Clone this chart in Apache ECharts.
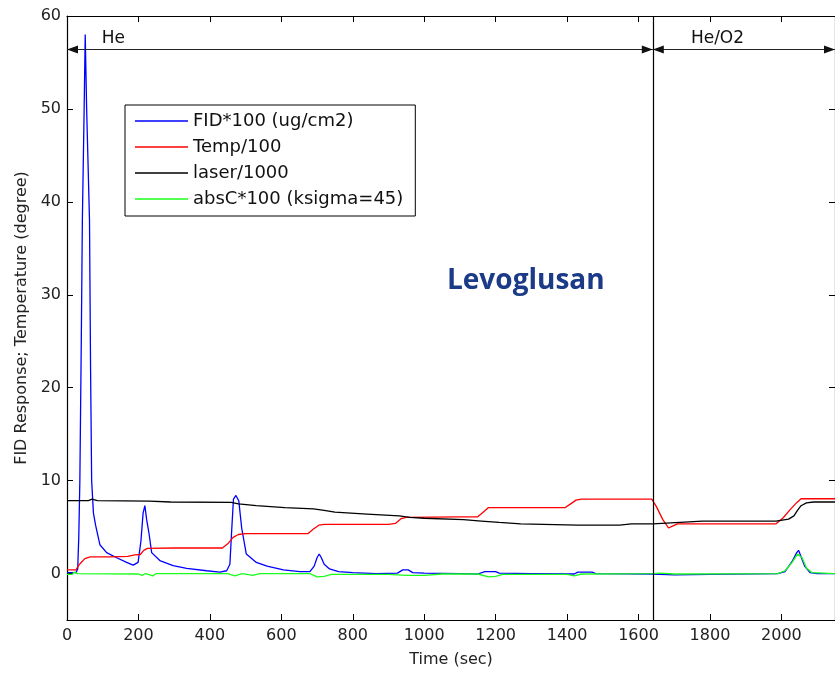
<!DOCTYPE html>
<html>
<head>
<meta charset="utf-8">
<title>Levoglusan</title>
<script src="https://cdn.jsdelivr.net/npm/echarts@6/dist/echarts.min.js"></script>
<style>
    html, body { margin: 0; padding: 0; background: #fff; }
    #chart { width: 835px; height: 673px; }
</style>
</head>
<body>
<div id="chart"></div>
<script>
'use strict';

// ---------------------------------------------------------------------------------------------
// data (time in sec)
const fidTime = [0, 25, 30, 33, 36, 40, 43, 48, 51, 55, 63, 66, 69, 74, 80, 92, 111, 139, 167, 185, 199, 207, 213, 218, 223, 230, 237, 260, 297, 335, 391, 428, 447, 456, 461, 466, 473, 481, 489, 502, 530, 560, 606, 652, 680, 692, 700, 706, 712, 720, 735, 760, 800, 866, 925, 940, 955, 968, 1000, 1100, 1150, 1170, 1200, 1210, 1300, 1420, 1430, 1470, 1480, 1640, 1700, 1800, 1990, 2010, 2030, 2042, 2048, 2055, 2065, 2080, 2100, 2150];
const fidValue = [0.1, 0.1, 0.5, 4, 10, 25, 38, 50, 58, 50, 38, 22, 10, 6.5, 5.2, 3.1, 2.25, 1.7, 1.2, 0.9, 1.2, 3.5, 6.5, 7.3, 5.8, 4.2, 2.25, 1.4, 0.85, 0.55, 0.3, 0.15, 0.3, 1.0, 4.6, 8.0, 8.4, 7.8, 4.9, 2.1, 1.2, 0.8, 0.4, 0.2, 0.2, 0.8, 1.7, 2.1, 1.7, 1.0, 0.5, 0.2, 0.1, 0.0, 0.05, 0.4, 0.4, 0.1, 0.05, 0.0, -0.05, 0.2, 0.2, 0.05, 0.0, -0.05, 0.15, 0.15, 0.0, -0.05, -0.15, -0.1, 0.0, 0.2, 1.3, 2.2, 2.5, 1.8, 0.8, 0.1, 0.0, 0.0];

const tempTime = [0, 25, 35, 50, 65, 120, 170, 190, 205, 215, 225, 300, 435, 450, 465, 480, 500, 550, 555, 560, 675, 690, 705, 720, 900, 920, 935, 950, 1100, 1150, 1165, 1180, 1395, 1410, 1425, 1440, 1637, 1650, 1668, 1684, 1695, 1709, 1985, 2005, 2025, 2042, 2055, 2150];
const tempValue = [0.4, 0.4, 1.0, 1.6, 1.8, 1.8, 1.85, 2.0, 2.05, 2.5, 2.7, 2.75, 2.75, 3.2, 3.9, 4.2, 4.3, 4.3, 4.2, 4.3, 4.3, 4.8, 5.2, 5.3, 5.3, 5.4, 5.9, 6.05, 6.1, 6.1, 6.6, 7.1, 7.1, 7.5, 7.9, 8.0, 8.0, 7.2, 5.8, 4.9, 5.1, 5.35, 5.35, 6.0, 6.9, 7.6, 8.05, 8.05];

const laserTime = [0, 60, 70, 85, 230, 290, 460, 480, 530, 610, 690, 720, 750, 840, 930, 960, 1000, 1110, 1160, 1210, 1270, 1430, 1547, 1580, 1640, 1779, 1985, 2020, 2035, 2045, 2055, 2070, 2090, 2150];
const laserValue = [7.85, 7.85, 8.0, 7.85, 7.8, 7.7, 7.65, 7.5, 7.3, 7.1, 6.95, 6.8, 6.6, 6.4, 6.2, 6.05, 5.95, 5.8, 5.65, 5.5, 5.35, 5.2, 5.2, 5.35, 5.35, 5.64, 5.64, 5.85, 6.2, 6.8, 7.3, 7.6, 7.7, 7.7];

const absCTime = [0, 15, 20, 30, 200, 210, 220, 240, 250, 450, 470, 490, 520, 540, 680, 700, 720, 740, 900, 950, 1000, 1050, 1150, 1180, 1200, 1220, 1400, 1420, 1440, 1640, 1660, 1700, 1990, 2010, 2030, 2045, 2050, 2058, 2070, 2085, 2150];
const absCValue = [-0.1, -0.1, 0.15, 0.0, -0.05, -0.2, 0.0, -0.25, 0.0, 0.0, -0.25, 0.0, -0.2, 0.0, 0.0, -0.35, -0.3, -0.1, -0.1, -0.2, -0.2, -0.05, -0.05, -0.35, -0.3, -0.1, -0.1, -0.25, -0.05, 0.0, 0.05, -0.05, 0.0, 0.3, 1.2, 2.1, 2.25, 1.7, 0.6, 0.1, 0.0];

const xTicks = [0, 200, 400, 600, 800, 1000, 1200, 1400, 1600, 1800, 2000];
const yTicks = [0, 10, 20, 30, 40, 50, 60];

// phase annotation: carrier gas switch
const switchTime = 1640;
const arrowLevel = 56.4;
const phaseNames = ['He', 'He/O2'];
const phaseLabelAt = [130, 1821];
const phaseSpans = [[0, 1640], [1640, 2150]];

const FONT = 'DejaVu Sans';

function zip(t, v) {
    let out = [];
    for (let i = 0; i < t.length; i++) {
        out.push([t[i], v[i]]);
    }
    return out;
}

function lineSeries(name, color, t, v) {
    return {
        name: name,
        type: 'line',
        data: zip(t, v),
        showSymbol: false,
        symbol: 'none',
        lineStyle: { color: color, width: 1.3 },
        itemStyle: { color: color },
        animation: false
    };
}

function axisBase(extra) {
    return Object.assign({
        type: 'value',
        axisLine: { show: true, onZero: false, lineStyle: { color: '#000', width: 1.2 } },
        axisTick: { show: true, inside: true, length: 6, lineStyle: { color: '#000', width: 1 } },
        splitLine: { show: false }
    }, extra);
}

// arrow head: dir -1 points left, +1 points right; tip sits on x
function arrowHead(x, dir) {
    return {
        coord: [x, arrowLevel],
        symbol: 'triangle',
        symbolSize: [8, 11],
        symbolRotate: dir < 0 ? 90 : -90,
        symbolOffset: [dir < 0 ? 5.5 : -5.5, 0],
        itemStyle: { color: '#111' },
        label: { show: false }
    };
}

// ---------------------------------------------------------------------------------------------
let chart = echarts.init(document.getElementById('chart'), null, { renderer: 'canvas' });

let laser = lineSeries('laser/1000', '#000000', laserTime, laserValue);
laser.markLine = {
    silent: true,
    animation: false,
    symbol: ['none', 'none'],
    label: { show: false },
    lineStyle: { color: '#222', width: 1.2, type: 'solid' },
    data: phaseSpans.map(s => [{ coord: [s[0], arrowLevel] }, { coord: [s[1], arrowLevel] }])
        .concat([[{ coord: [switchTime, -5], lineStyle: { color: '#000' } }, { coord: [switchTime, 60] }]])
};

let heads = [];
phaseSpans.forEach(s => {
    heads.push(arrowHead(s[0], -1));
    heads.push(arrowHead(s[1], 1));
});

laser.markPoint = {
    silent: true,
    animation: false,
    symbol: 'circle',
    symbolSize: 0,
    label: {
        show: true,
        position: 'top',
        distance: 2,
        color: '#111',
        fontFamily: FONT,
        fontSize: 17,
        formatter: p => p.name
    },
    data: phaseNames.map((n, i) => ({ name: n, coord: [phaseLabelAt[i], arrowLevel] })).concat(heads)
};

let option = {
    backgroundColor: '#fff',
    animation: false,
    grid: { left: 67, top: 16, right: -1, bottom: 50, containLabel: false },
    legend: {
        orient: 'vertical',
        left: 125,
        top: 105,
        data: ['FID*100 (ug/cm2)', 'Temp/100', 'laser/1000', 'absC*100 (ksigma=45)'],
        icon: 'rect',
        itemWidth: 53,
        itemHeight: 1.5,
        itemGap: 8,
        padding: [7, 12, 8, 10],
        borderColor: '#000',
        borderWidth: 1,
        backgroundColor: '#fff',
        selectedMode: false,
        textStyle: { fontFamily: FONT, fontSize: 18, color: '#111' }
    },
    xAxis: [
        axisBase({
            min: 0, max: 2150, position: 'bottom',
            axisTick: { show: true, inside: true, length: 6, customValues: xTicks, lineStyle: { color: '#000' } },
            axisLabel: { customValues: xTicks, formatter: v => String(v), fontFamily: FONT, fontSize: 16, color: '#222', margin: 8 },
            name: 'Time (sec)',
            nameLocation: 'middle',
            nameGap: 32,
            nameTextStyle: { fontFamily: FONT, fontSize: 16, color: '#222' }
        }),
        axisBase({
            min: 0, max: 2150, position: 'top',
            axisTick: { show: true, inside: true, length: 6, customValues: xTicks, lineStyle: { color: '#000' } },
            axisLabel: { show: false }
        })
    ],
    yAxis: [
        axisBase({
            min: -5, max: 60, position: 'left',
            axisTick: { show: true, inside: true, length: 6, customValues: yTicks, lineStyle: { color: '#000' } },
            axisLabel: { customValues: yTicks, formatter: v => String(v), fontFamily: FONT, fontSize: 16, color: '#222', margin: 6 },
            name: 'FID Response; Temperature (degree)',
            nameLocation: 'middle',
            nameGap: 36,
            nameTextStyle: { fontFamily: FONT, fontSize: 16, color: '#222' }
        }),
        axisBase({
            min: -5, max: 60, position: 'right',
            axisTick: { show: true, inside: true, length: 6, customValues: yTicks, lineStyle: { color: '#000' } },
            axisLabel: { show: false }
        })
    ],
    graphic: [{
        type: 'text',
        left: 447,
        top: 267,
        silent: true,
        style: {
            text: 'Levoglusan',
            fill: '#1b3a87',
            font: 'bold 28px "Open Sans", "DejaVu Sans", sans-serif'
        }
    }],
    series: [
        lineSeries('FID*100 (ug/cm2)', '#0000ff', fidTime, fidValue),
        lineSeries('Temp/100', '#ff0000', tempTime, tempValue),
        laser,
        lineSeries('absC*100 (ksigma=45)', '#1aff1a', absCTime, absCValue)
    ]
};

chart.setOption(option);
</script>
</body>
</html>
